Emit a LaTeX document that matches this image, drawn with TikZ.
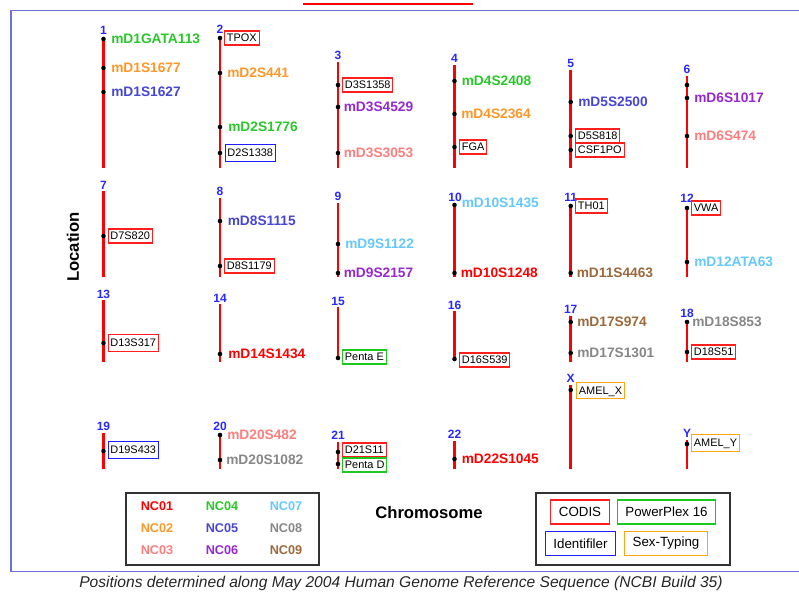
\documentclass[tikz,border=0pt]{standalone}
\usepackage{fontspec}
\setmainfont{Liberation Sans}
\definecolor{NC01}{RGB}{255,0,0}
\definecolor{NC02}{RGB}{255,150,40}
\definecolor{NC03}{RGB}{255,125,125}
\definecolor{NC04}{RGB}{40,200,40}
\definecolor{NC05}{RGB}{70,70,210}
\definecolor{NC06}{RGB}{150,40,210}
\definecolor{NC07}{RGB}{100,200,255}
\definecolor{NC08}{RGB}{135,135,135}
\definecolor{NC09}{RGB}{155,105,60}
\definecolor{numblue}{RGB}{40,40,255}
\definecolor{frameblue}{RGB}{110,110,220}
\definecolor{kitred}{RGB}{255,30,30}
\definecolor{kitgreen}{RGB}{30,200,30}
\definecolor{kitblue}{RGB}{30,30,255}
\definecolor{kitorange}{RGB}{255,165,20}
\tikzset{
  chr/.style={NC01, line width=2.2pt},
  num/.style={text=numblue, inner sep=0pt, font=\fontsize{9}{10}\selectfont\bfseries},
  mk/.style={anchor=west, inner sep=0pt, text height=7.3pt, text depth=0pt,
    font=\fontsize{10.3}{12}\selectfont\bfseries},
  kit/.style={anchor=west, draw=#1, line width=0.8pt, text=black, inner xsep=1.8pt,
    inner ysep=0pt, text height=5.9pt, text depth=0.4pt, minimum height=10.5pt,
    font=\fontsize{8.2}{9}\selectfont},
  codis/.style={kit=kitred},
  pp16/.style={kit=kitgreen},
  idf/.style={kit=kitblue},
  sex/.style={kit=kitorange},
  tall/.style={minimum height=12.5pt},
  leg/.style={inner sep=0pt, font=\fontsize{9.5}{11}\selectfont\bfseries},
  kbox/.style={draw=#1, line width=0.8pt, inner sep=0pt, minimum height=18pt,
    font=\fontsize{10}{12}\selectfont}
}
\begin{document}
\begin{tikzpicture}[x=0.75pt, y=-0.75pt]
  \useasboundingbox (0,0) rectangle (799,593);

  % frame
  \draw[frameblue, line width=1.3pt] (799,10.5) -- (11,10.5) -- (11,571.5) -- (799,571.5);
  \draw[NC01, line width=0.9pt] (303,4) -- (473,4);

  % chromosomes 1-6
  \draw[chr] (103.5,37) -- (103.5,168);
  \node[num] (n1) at (103.5,30) {1};
  \fill (103.5,39) circle (2.3); \node[mk, text=NC04] (m1a) at (111,39) {mD1GATA113};
  \fill (103.5,68) circle (2.3); \node[mk, text=NC02] (m1b) at (111,68) {mD1S1677};
  \fill (103.5,92) circle (2.3); \node[mk, text=NC05] (m1c) at (111,92) {mD1S1627};

  \draw[chr] (220,37) -- (220,168);
  \node[num] (n2) at (220,29) {2};
  \fill (220,38) circle (2.3); \node[codis] (m2a) at (224,38) {TPOX};
  \fill (220,73) circle (2.3); \node[mk, text=NC02] (m2b) at (227,73) {mD2S441};
  \fill (220,127) circle (2.3); \node[mk, text=NC04] (m2c) at (228,127) {mD2S1776};
  \fill (220,153) circle (2.3); \node[idf, tall] (m2d) at (224.5,153) {D2S1338};

  \draw[chr] (338,62) -- (338,168);
  \node[num] (n3) at (338,55) {3};
  \fill (338,85) circle (2.3); \node[codis] (m3a) at (342,85) {D3S1358};
  \fill (338,107) circle (2.3); \node[mk, text=NC06] (m3b) at (343.5,107) {mD3S4529};
  \fill (338,153) circle (2.3); \node[mk, text=NC03] (m3c) at (343.5,153) {mD3S3053};

  \draw[chr] (454.5,65) -- (454.5,168);
  \node[num] (n4) at (454.5,58) {4};
  \fill (454.5,81) circle (2.3); \node[mk, text=NC04] (m4a) at (461.5,81) {mD4S2408};
  \fill (454.5,114) circle (2.3); \node[mk, text=NC02] (m4b) at (461,114) {mD4S2364};
  \fill (454.5,147) circle (2.3); \node[codis] (m4c) at (459,147) {FGA};

  \draw[chr] (570.7,70) -- (570.7,168);
  \node[num] (n5) at (570.7,63) {5};
  \fill (570.7,102) circle (2.3); \node[mk, text=NC05] (m5a) at (578,102) {mD5S2500};
  \fill (570.7,136) circle (2.3); \node[codis] (m5b) at (575,136) {D5S818};
  \fill (570.7,150) circle (2.3); \node[codis] (m5c) at (575,150) {CSF1PO};

  \draw[chr] (687,76) -- (687,168);
  \node[num] (n6) at (687,69) {6};
  \fill (687,85) circle (2.3);
  \fill (687,98) circle (2.3); \node[mk, text=NC06] (m6a) at (694,98) {mD6S1017};
  \fill (687,136) circle (2.3); \node[mk, text=NC03] (m6b) at (694,136) {mD6S474};

  % chromosomes 7-12
  \draw[chr] (103.5,191) -- (103.5,277);
  \node[num] (n7) at (103.5,185) {7};
  \fill (103.5,236) circle (2.3); \node[codis] (m7a) at (107.5,236) {D7S820};

  \draw[chr] (220,198) -- (220,277);
  \node[num] (n8) at (220,191) {8};
  \fill (220,221) circle (2.3); \node[mk, text=NC05] (m8a) at (227.5,221) {mD8S1115};
  \fill (220,266) circle (2.3); \node[codis] (m8b) at (224,266) {D8S1179};

  \draw[chr] (338,203) -- (338,277);
  \node[num] (n9) at (338,196) {9};
  \fill (338,244) circle (2.3); \node[mk, text=NC07] (m9a) at (345,244) {mD9S1122};
  \fill (338,273) circle (2.3); \node[mk, text=NC06] (m9b) at (343.5,273) {mD9S2157};

  \draw[chr] (454.5,205) -- (454.5,277);
  \node[num] (n10) at (455,197) {10};
  \fill (454.5,205) circle (2.3); \node[mk, text=NC07] (m10a) at (461.5,203) {mD10S1435};
  \fill (454.5,273) circle (2.3); \node[mk, text=NC01] (m10b) at (460.5,273) {mD10S1248};

  \draw[chr] (570.7,206) -- (570.7,277);
  \node[num] (n11) at (570.7,197) {11};
  \fill (570.7,206) circle (2.3); \node[codis] (m11a) at (575,206) {TH01};
  \fill (570.7,273) circle (2.3); \node[mk, text=NC09] (m11b) at (576.5,273) {mD11S4463};

  \draw[chr] (687,208) -- (687,277);
  \node[num] (n12) at (687,198) {12};
  \fill (687,208) circle (2.3); \node[codis] (m12a) at (691,208) {VWA};
  \fill (687,262) circle (2.3); \node[mk, text=NC07] (m12b) at (694,262) {mD12ATA63};

  % chromosomes 13-18, X
  \draw[chr] (103.5,300) -- (103.5,362);
  \node[num] (n13) at (103.5,294) {13};
  \fill (103.5,343) circle (2.3); \node[codis, tall] (m13a) at (107.5,343) {D13S317};

  \draw[chr] (220,304) -- (220,362);
  \node[num] (n14) at (220,298) {14};
  \fill (220,354) circle (2.3); \node[mk, text=NC01] (m14a) at (228,354) {mD14S1434};

  \draw[chr] (338,307) -- (338,358);
  \node[num] (n15) at (338,301) {15};
  \fill (338,358) circle (2.3); \node[pp16] (m15a) at (342,357) {Penta E};

  \draw[chr] (454.5,311) -- (454.5,359);
  \node[num] (n16) at (454.5,305) {16};
  \fill (454.5,359) circle (2.3); \node[codis] (m16a) at (459,360) {D16S539};

  \draw[chr] (570.7,316) -- (570.7,362);
  \node[num] (n17) at (570.7,309) {17};
  \fill (570.7,322) circle (2.3); \node[mk, text=NC09] (m17a) at (577,322) {mD17S974};
  \fill (570.7,353) circle (2.3); \node[mk, text=NC08] (m17b) at (577,353) {mD17S1301};

  \draw[chr] (687,322) -- (687,362);
  \node[num] (n18) at (687,313) {18};
  \fill (687,322) circle (2.3); \node[mk, text=NC08] (m18a) at (692,322) {mD18S853};
  \fill (687,352) circle (2.3); \node[codis] (m18b) at (691,352) {D18S51};

  \draw[chr] (570.7,385) -- (570.7,469);
  \node[num] (nX) at (570.7,378) {X};
  \fill (570.7,390) circle (2.3); \node[sex, tall] (mXa) at (576,390.5) {AMEL\_X};

  % chromosomes 19-22, Y
  \draw[chr] (103.5,433) -- (103.5,469);
  \node[num] (n19) at (103.5,426) {19};
  \fill (103.5,451) circle (2.3); \node[idf, tall] (m19a) at (107.5,450) {D19S433};

  \draw[chr] (220,435) -- (220,469);
  \node[num] (n20) at (220,426) {20};
  \fill (220,435) circle (2.3); \node[mk, text=NC03] (m20a) at (227,435) {mD20S482};
  \fill (220,460) circle (2.3); \node[mk, text=NC08] (m20b) at (226,460) {mD20S1082};

  \draw[chr] (338,442) -- (338,469);
  \node[num] (n21) at (338,435) {21};
  \fill (338,452) circle (2.3); \node[codis] (m21a) at (342,450) {D21S11};
  \fill (338,464) circle (2.3); \node[pp16] (m21b) at (342,465) {Penta D};

  \draw[chr] (454.5,441) -- (454.5,469);
  \node[num] (n22) at (454.5,434) {22};
  \fill (454.5,459) circle (2.3); \node[mk, text=NC01] (m22a) at (461.5,459) {mD22S1045};

  \draw[chr] (687,440) -- (687,469);
  \node[num] (nY) at (687,433) {Y};
  \fill (687,444) circle (2.3); \node[sex, tall] (mYa) at (691,443) {AMEL\_Y};

  % axes
  \node[rotate=90, font=\fontsize{12.5}{14}\selectfont\bfseries] (loc) at (73,247) {Location};
  \node[font=\fontsize{12.5}{14}\selectfont\bfseries] (chrom) at (429,513) {Chromosome};

  % legend: marker classes
  \draw[black!80, line width=1pt] (126,493) rectangle (319,565);
  \foreach \c/\xx/\yy in {NC01/157/506, NC02/157/528, NC03/157/550,
                          NC04/222/506, NC05/222/528, NC06/222/550,
                          NC07/286/506, NC08/286/528, NC09/286/550}
    \node[leg, text=\c] (\c) at (\xx,\yy) {\c};

  % legend: kits
  \draw[black!80, line width=1pt] (536,493) rectangle (730,565);
  \node[kbox=kitred, minimum width=44pt] (codis) at (580,512) {CODIS};
  \node[kbox=kitgreen, minimum width=74pt] (pp16) at (666.5,512) {PowerPlex 16};
  \node[kbox=kitblue, minimum width=53pt] (idf) at (580.5,543.5) {Identifiler};
  \node[kbox=kitorange, minimum width=62.5pt] (sex) at (666,543.5) {Sex-Typing};

  % caption
  \node[font=\fontsize{11.7}{13}\selectfont\itshape, text=black!85] (cap) at (401,583)
    {Positions determined along May 2004 Human Genome Reference Sequence (NCBI Build 35)};
\end{tikzpicture}
\end{document}
